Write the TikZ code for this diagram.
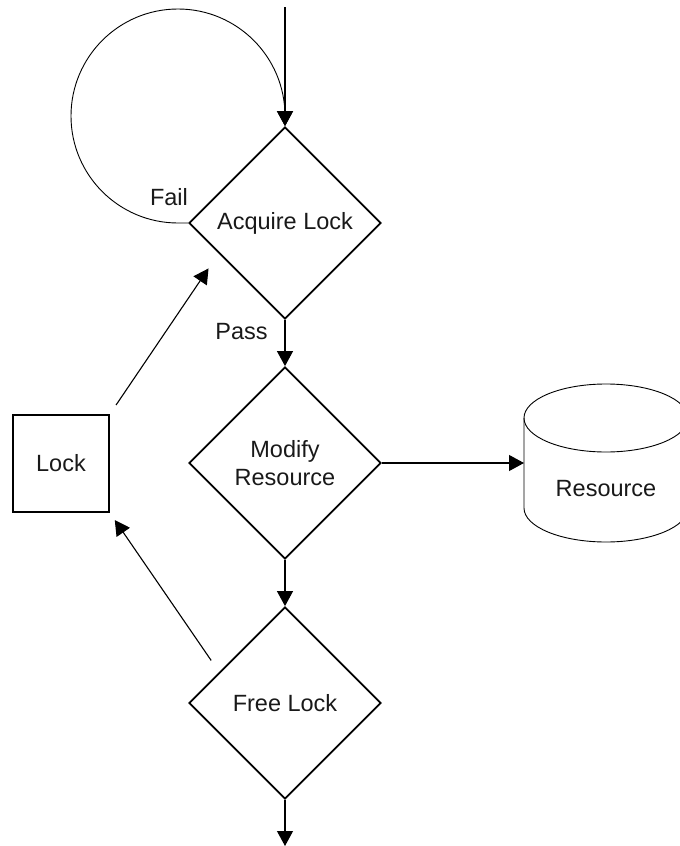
\documentclass[tikz,border=0pt]{standalone}
\usepackage{fontspec}
\setmainfont{Liberation Sans}
\usetikzlibrary{shapes.geometric,arrows.meta,calc}
\begin{document}
\begin{tikzpicture}[x=0.5pt,y=-0.5pt,
  every node/.style={font=\fontsize{11.75}{14}\selectfont, text=black!90},
  dec/.style={draw, shape=diamond, minimum size=96pt, inner sep=0pt, line width=0.9pt, align=center},
  tip/.style={-{Triangle[length=7.5pt,width=8pt]}},
  conn/.style={line width=0.55pt, tip},
  thinline/.style={line width=0.45pt}]
\useasboundingbox (0,0) rectangle (680,846);
% decisions
\node[dec] (d1) at (285,223) {Acquire Lock};
\node[dec] (d2) at (285,463) {Modify\\Resource};
\node[dec] (d3) at (285,703) {Free Lock};
% lock box
\node[draw, line width=0.9pt, minimum width=48pt, minimum height=48.5pt, inner sep=0pt] (lock) at (61,463.5) {Lock};
% cylinder
\node[minimum width=82pt, minimum height=45pt, inner sep=0pt, outer sep=0pt] (cyl) at (606,463) {};
\draw[thinline] (cyl.north west) -- (cyl.south west) arc[start angle=180, end angle=360, x radius=41pt, y radius=17pt] -- (cyl.north east);
\draw[thinline] (cyl.north) ellipse [x radius=41pt, y radius=17pt];
\node[anchor=base] (restext) at (606,496) {Resource};
% labels
\node[anchor=base] (fail) at (169,205) {Fail};
\node[anchor=base] (pass) at (241.5,339) {Pass};
% connectors
\coordinate (top) at (285,7);
\coordinate (bot) at (285,846);
\draw[conn] (top) -- (d1.north);
\draw[conn] (d1.south) -- (d2.north);
\draw[conn] (d2.south) -- (d3.north);
\draw[conn] (d3.south) -- (bot);
\draw[conn] (d2.east) -- (cyl.west);
\draw[conn, shorten <=5.5pt, shorten >=9pt] (lock.north east) -- ($(d1.west)!0.315!(d1.south)$);
\draw[conn, shorten <=7pt, shorten >=4.3pt] ($(d3.west)!0.32!(d3.north)$) -- (lock.south east);
% fail loop
\draw[thinline, tip] (d1.west) -- (178,223) arc[start angle=270, end angle=0, radius=53.5pt] -- (d1.north);
\end{tikzpicture}
\end{document}
